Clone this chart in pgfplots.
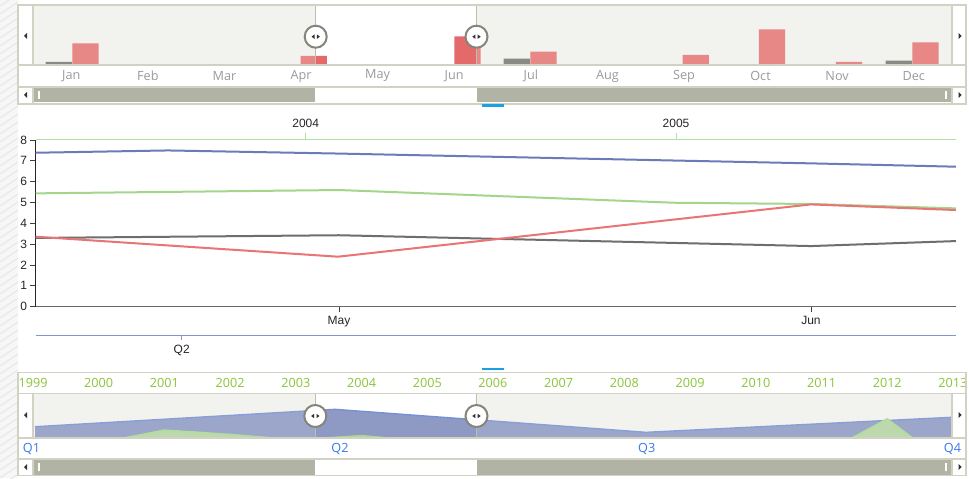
\documentclass[border=0pt]{standalone}
\usepackage{pgfplots}
\pgfplotsset{compat=1.18}
\usepackage{fontspec}
\setmainfont{Open Sans}
\newfontfamily\arialf{Liberation Sans}
\definecolor{panelbg}{HTML}{F2F2EE}
\definecolor{panelborder}{HTML}{D2D2C4}
\definecolor{scrollgray}{HTML}{B1B3A5}
\definecolor{handlegray}{HTML}{85857A}
\definecolor{selline}{HTML}{BDBDB0}
\definecolor{barred}{HTML}{E46A6A}
\definecolor{bargray}{HTML}{6E6E68}
\definecolor{monthgray}{HTML}{9A9A9A}
\definecolor{lblue}{HTML}{6B7BB8}
\definecolor{lgreen}{HTML}{A3D68A}
\definecolor{lred}{HTML}{E87474}
\definecolor{lgray}{HTML}{6E6E6E}
\definecolor{yeargreen}{HTML}{8CC43C}
\definecolor{qblue}{HTML}{3A7AEE}
\definecolor{areablue}{HTML}{8E99C4}
\definecolor{areablueline}{HTML}{7690D4}
\definecolor{areagreen}{HTML}{B6D8A0}
\definecolor{areagreenline}{HTML}{A6DA8C}
\definecolor{splitblue}{HTML}{1BA1E2}
\definecolor{qaxis}{HTML}{8594CA}
\definecolor{yaxisgreen}{HTML}{B4DFA0}
\newcommand{\handle}[2]{%
  \filldraw[fill=white, draw=handlegray, line width=1.5pt] (#1,#2) circle (11);
  \fill[black!80] (#1-1.2,#2+2.2) -- (#1-1.2,#2-2.2) -- (#1-4.2,#2) -- cycle;
  \fill[black!80] (#1+1.2,#2+2.2) -- (#1+1.2,#2-2.2) -- (#1+4.2,#2) -- cycle;}
\newcommand{\larrow}[2]{\fill[black!80] (#1+1.5,#2+3) -- (#1+1.5,#2-3) -- (#1-1.5,#2) -- cycle;}
\newcommand{\rarrow}[2]{\fill[black!80] (#1-1.5,#2+3) -- (#1-1.5,#2-3) -- (#1+1.5,#2) -- cycle;}
\begin{document}
\begin{tikzpicture}[x=0.75pt,y=0.75pt]
\path[use as bounding box] (0,0) rectangle (969,478);
\fill[white] (0,0) rectangle (969,478);
% left patterned strip
\begin{scope}
\clip (0,0) rectangle (18,478);
\fill[black!3] (0,0) rectangle (18,478);
\foreach \i in {-40,-32,...,500} \draw[black!8, line width=1.2pt] (0,\i) -- (18,\i+12);
\end{scope}

% ================= TOP NAVIGATOR =================
\fill[white] (18,374) rectangle (966,473);
\fill[panelbg] (33,413.7) rectangle (952,472);
\fill[white] (315.3,413.7) rectangle (476.5,472);
\begin{axis}[at={(24.75pt,310.275pt)}, anchor=south west, scale only axis,
  width=689.25pt, height=43.7pt, xmin=0, xmax=12, ymin=0, ymax=58.3, hide axis]
\addplot[ybar, bar width=0.343, bar shift=0pt, fill=bargray, draw=none]
  coordinates {(0.3375,2.3) (6.318,5.6) (11.306,3.6)};
\addplot[ybar, bar width=0.343, bar shift=0pt, fill=barred, draw=none]
  coordinates {(0.686,21) (3.667,8.3) (5.674,28) (6.666,12.6) (8.655,9.3) (9.648,35) (10.655,2.3) (11.654,22)};
\end{axis}
\fill[panelbg, opacity=0.22] (33,413.7) rectangle (315.3,472);
\fill[panelbg, opacity=0.22] (476.5,413.7) rectangle (952,472);
\draw[selline, line width=1pt] (315.3,413.7) -- (315.3,472);
\draw[selline, line width=1pt] (476.5,413.7) -- (476.5,472);
\handle{315.7}{441.3}
\handle{476.5}{441.3}
\larrow{25.5}{442}
\rarrow{960}{442}
% month labels
\foreach \m [count=\i from 0] in {Jan,Feb,Mar,Apr,May,Jun,Jul,Aug,Sep,Oct,Nov,Dec}
  \node[text=monthgray, font=\fontsize{9.5}{11}\selectfont] at ({33+76.583*(\i+0.5)},402) {\m};
% scrollbar
\fill[scrollgray] (33,375.5) rectangle (952,390.5);
\fill[white] (315.3,375.5) rectangle (476.5,390.5);
\fill[white] (38.3,379) rectangle (40,387);
\fill[white] (945,379) rectangle (946.7,387);
\larrow{25.5}{383}
\rarrow{960}{383}
% borders
\draw[panelborder, line width=1.1pt] (18,374) rectangle (966,473);
\draw[panelborder, line width=1.5pt] (18,413) -- (966,413);
\draw[panelborder, line width=1.1pt] (18,391) -- (966,391);
\draw[panelborder, line width=1.1pt] (33,413) -- (33,473);
\draw[panelborder, line width=1.1pt] (952,413) -- (952,473);
\draw[panelborder, line width=1.1pt] (33,375) -- (33,391);
\draw[panelborder, line width=1.1pt] (952,375) -- (952,391);
\draw[splitblue, line width=1.6pt] (482,372.5) -- (504,372.5);

% ================= MAIN CHART =================
\draw[yaxisgreen, line width=0.75pt] (35.7,338) -- (956,338);
\draw[yaxisgreen, line width=0.75pt] (305.7,338) -- (305.7,345);
\draw[yaxisgreen, line width=0.75pt] (676,338) -- (676,345);
\node[font=\arialf\fontsize{9}{10}\selectfont, text=black!85] at (305.7,355) {2004};
\node[font=\arialf\fontsize{9}{10}\selectfont, text=black!85] at (676,355) {2005};
\draw[qaxis, line width=0.75pt] (35.7,142.3) -- (956,142.3);
\draw[qaxis, line width=0.75pt] (181.7,142.3) -- (181.7,137.5);
\node[font=\arialf\fontsize{9}{10}\selectfont, text=black!85] at (181.7,128) {Q2};
\begin{axis}[at={(26.775pt,128.475pt)}, anchor=south west, scale only axis,
  width=690.2pt, height=125pt, xmin=35.7, xmax=956, ymin=0, ymax=8,
  axis x line*=bottom, axis y line*=left, axis line style={-},
  x axis line style={draw=black!60, line width=0.8pt},
  y axis line style={draw=black!85, line width=0.8pt},
  xtick={339,811}, xticklabels={May,Jun}, ytick={0,1,...,8},
  tick align=outside, major tick length=4pt,
  tick style={black!75, line width=0.7pt},
  ticklabel style={font=\arialf\fontsize{9}{10}\selectfont, text=black!85},
  /pgf/number format/assume math mode=true,
  yticklabel style={xshift=1pt}]
\addplot[lblue, line width=1.5pt] coordinates {(35.7,7.39) (168,7.5) (339,7.35) (811,6.88) (956,6.72)};
\addplot[lgreen, line width=1.5pt] coordinates {(35.7,5.44) (339,5.6) (674,4.99) (811,4.93) (956,4.72)};
\addplot[lgray, line width=1.5pt] coordinates {(35.7,3.30) (339,3.43) (811,2.91) (956,3.15)};
\addplot[lred, line width=1.5pt] coordinates {(35.7,3.36) (338,2.40) (811,4.91) (956,4.64)};
\end{axis}

% ================= BOTTOM NAVIGATOR =================
\fill[white] (18,2.5) rectangle (966,105.3);
\fill[panelbg] (33,40.7) rectangle (952,84.7);
\fill[white] (315.3,40.7) rectangle (476.5,84.7);
\begin{axis}[at={(24.75pt,30.525pt)}, anchor=south west, scale only axis,
  width=689.25pt, height=33pt, xmin=33, xmax=952, ymin=0, ymax=44, hide axis]
\addplot[fill=areablue, draw=none] coordinates {(35,10.6) (335,28) (646,5) (951,20)} \closedcycle;
\addplot[areablueline, line width=1pt] coordinates {(35,10.6) (335,28) (646,5) (951,20)};
\addplot[fill=areagreen, draw=none, fill opacity=0.95] coordinates {(33,-8) (98.7,-5.5) (164.4,7.3) (230.1,3.0) (295.8,-2.5) (361.6,1.8) (427.3,-4) (493,-6) (558.7,-8) (624.4,-8) (690.1,-8) (755.8,-10) (821.5,-17) (887.2,18.6) (953,-31)} \closedcycle;
\addplot[areagreenline, line width=1pt] coordinates {(33,-8) (98.7,-5.5) (164.4,7.3) (230.1,3.0) (295.8,-2.5) (361.6,1.8) (427.3,-4) (493,-6) (558.7,-8) (624.4,-8) (690.1,-8) (755.8,-10) (821.5,-17) (887.2,18.6) (953,-31)};
\end{axis}
\fill[panelbg, opacity=0.15] (33,40.7) rectangle (315.3,84.7);
\fill[panelbg, opacity=0.15] (476.5,40.7) rectangle (952,84.7);
\draw[selline, line width=1pt] (315.3,40.7) -- (315.3,84.7);
\draw[selline, line width=1pt] (476.5,40.7) -- (476.5,84.7);
\handle{315.3}{62}
\handle{476.5}{62}
\larrow{25.5}{63}
\rarrow{960}{63}
% year labels
\foreach \yr [count=\i from 0] in {1999,2000,2001,2002,2003,2004,2005,2006,2007,2008,2009,2010,2011,2012,2013}
  \node[text=yeargreen, font=\fontsize{9.5}{11}\selectfont] at ({33+65.71*\i},95) {\yr};
% quarter labels
\node[text=qblue, font=\fontsize{9.5}{11}\selectfont] at (31.5,29) {Q1};
\node[text=qblue, font=\fontsize{9.5}{11}\selectfont] at (340,29) {Q2};
\node[text=qblue, font=\fontsize{9.5}{11}\selectfont] at (646.7,29) {Q3};
\node[text=qblue, font=\fontsize{9.5}{11}\selectfont] at (952.5,29) {Q4};
% scrollbar
\fill[scrollgray] (33,3.5) rectangle (952,18.5);
\fill[white] (315.3,3.5) rectangle (476.5,18.5);
\fill[white] (38.3,7) rectangle (40,15);
\fill[white] (945,7) rectangle (946.7,15);
\larrow{25.5}{11}
\rarrow{960}{11}
% borders
\draw[panelborder, line width=1.1pt] (18,2.5) rectangle (966,105.3);
\draw[panelborder, line width=1.1pt] (18,84.7) -- (966,84.7);
\draw[panelborder, line width=1.5pt] (18,40.5) -- (966,40.5);
\draw[panelborder, line width=1.1pt] (18,19) -- (966,19);
\draw[panelborder, line width=1.1pt] (33,40.7) -- (33,84.7);
\draw[panelborder, line width=1.1pt] (952,40.7) -- (952,84.7);
\draw[panelborder, line width=1.1pt] (33,3) -- (33,19);
\draw[panelborder, line width=1.1pt] (952,3) -- (952,19);
\draw[splitblue, line width=1.6pt] (482,109) -- (504,109);
\end{tikzpicture}
\end{document}
